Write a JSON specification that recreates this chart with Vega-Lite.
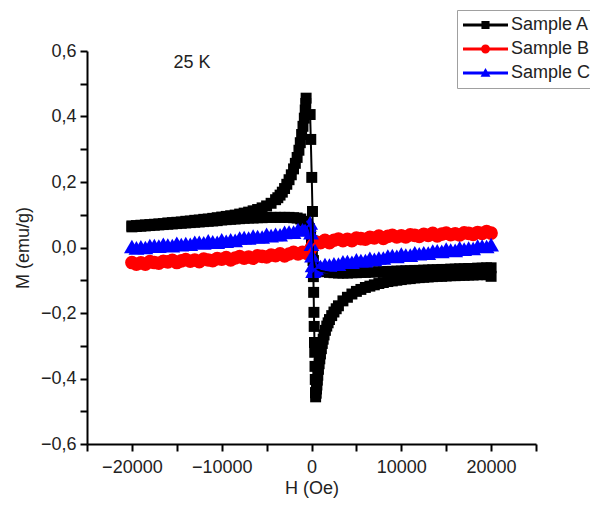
{
  "$schema": "https://vega.github.io/schema/vega-lite/v6.json",
  "width": 449,
  "height": 393,
  "autosize": {"type": "none"},
  "padding": {"left": 87, "top": 51, "right": 54, "bottom": 66},
  "background": "white",
  "config": {"view": {"stroke": null}, "font": "Liberation Sans"},
  "datasets": {
    "note": [{"h": -13300, "m": 0.549, "t": "25 K"}],
    "curves": [
      {"s":"Sample A","i":1,"h":20000,"m":-0.062},
      {"s":"Sample A","i":2,"h":19500,"m":-0.062},
      {"s":"Sample A","i":3,"h":19000,"m":-0.063},
      {"s":"Sample A","i":4,"h":18500,"m":-0.063},
      {"s":"Sample A","i":5,"h":18000,"m":-0.064},
      {"s":"Sample A","i":6,"h":17500,"m":-0.064},
      {"s":"Sample A","i":7,"h":17000,"m":-0.065},
      {"s":"Sample A","i":8,"h":16500,"m":-0.065},
      {"s":"Sample A","i":9,"h":16000,"m":-0.066},
      {"s":"Sample A","i":10,"h":15500,"m":-0.066},
      {"s":"Sample A","i":11,"h":15000,"m":-0.067},
      {"s":"Sample A","i":12,"h":14500,"m":-0.067},
      {"s":"Sample A","i":13,"h":14000,"m":-0.068},
      {"s":"Sample A","i":14,"h":13500,"m":-0.068},
      {"s":"Sample A","i":15,"h":13000,"m":-0.069},
      {"s":"Sample A","i":16,"h":12500,"m":-0.069},
      {"s":"Sample A","i":17,"h":12000,"m":-0.07},
      {"s":"Sample A","i":18,"h":11500,"m":-0.07},
      {"s":"Sample A","i":19,"h":11000,"m":-0.071},
      {"s":"Sample A","i":20,"h":10500,"m":-0.071},
      {"s":"Sample A","i":21,"h":10000,"m":-0.072},
      {"s":"Sample A","i":22,"h":9500,"m":-0.072},
      {"s":"Sample A","i":23,"h":9000,"m":-0.073},
      {"s":"Sample A","i":24,"h":8500,"m":-0.073},
      {"s":"Sample A","i":25,"h":8000,"m":-0.074},
      {"s":"Sample A","i":26,"h":7500,"m":-0.074},
      {"s":"Sample A","i":27,"h":7000,"m":-0.075},
      {"s":"Sample A","i":28,"h":6500,"m":-0.075},
      {"s":"Sample A","i":29,"h":6000,"m":-0.076},
      {"s":"Sample A","i":30,"h":5500,"m":-0.076},
      {"s":"Sample A","i":31,"h":5000,"m":-0.077},
      {"s":"Sample A","i":32,"h":4500,"m":-0.077},
      {"s":"Sample A","i":33,"h":4000,"m":-0.078},
      {"s":"Sample A","i":34,"h":3500,"m":-0.078},
      {"s":"Sample A","i":35,"h":3000,"m":-0.078},
      {"s":"Sample A","i":36,"h":2500,"m":-0.077},
      {"s":"Sample A","i":37,"h":2000,"m":-0.076},
      {"s":"Sample A","i":38,"h":1500,"m":-0.074},
      {"s":"Sample A","i":39,"h":1000,"m":-0.071},
      {"s":"Sample A","i":40,"h":700,"m":-0.067},
      {"s":"Sample A","i":41,"h":400,"m":-0.06},
      {"s":"Sample A","i":42,"h":200,"m":-0.04},
      {"s":"Sample A","i":43,"h":100,"m":-0.01},
      {"s":"Sample A","i":44,"h":0,"m":0.02},
      {"s":"Sample A","i":45,"h":-100,"m":0.045},
      {"s":"Sample A","i":46,"h":-250,"m":0.058},
      {"s":"Sample A","i":47,"h":-500,"m":0.07},
      {"s":"Sample A","i":48,"h":-800,"m":0.08},
      {"s":"Sample A","i":49,"h":-1200,"m":0.087},
      {"s":"Sample A","i":50,"h":-1600,"m":0.09},
      {"s":"Sample A","i":51,"h":-2000,"m":0.091},
      {"s":"Sample A","i":52,"h":-2500,"m":0.092},
      {"s":"Sample A","i":53,"h":-3000,"m":0.092},
      {"s":"Sample A","i":54,"h":-3500,"m":0.092},
      {"s":"Sample A","i":55,"h":-4000,"m":0.092},
      {"s":"Sample A","i":56,"h":-4500,"m":0.092},
      {"s":"Sample A","i":57,"h":-5000,"m":0.092},
      {"s":"Sample A","i":58,"h":-5500,"m":0.091},
      {"s":"Sample A","i":59,"h":-6000,"m":0.091},
      {"s":"Sample A","i":60,"h":-6500,"m":0.09},
      {"s":"Sample A","i":61,"h":-7000,"m":0.09},
      {"s":"Sample A","i":62,"h":-7500,"m":0.089},
      {"s":"Sample A","i":63,"h":-8000,"m":0.088},
      {"s":"Sample A","i":64,"h":-8500,"m":0.087},
      {"s":"Sample A","i":65,"h":-9000,"m":0.086},
      {"s":"Sample A","i":66,"h":-9500,"m":0.085},
      {"s":"Sample A","i":67,"h":-10000,"m":0.084},
      {"s":"Sample A","i":68,"h":-10500,"m":0.082},
      {"s":"Sample A","i":69,"h":-11000,"m":0.081},
      {"s":"Sample A","i":70,"h":-11500,"m":0.08},
      {"s":"Sample A","i":71,"h":-12000,"m":0.079},
      {"s":"Sample A","i":72,"h":-12500,"m":0.078},
      {"s":"Sample A","i":73,"h":-13000,"m":0.077},
      {"s":"Sample A","i":74,"h":-13500,"m":0.076},
      {"s":"Sample A","i":75,"h":-14000,"m":0.075},
      {"s":"Sample A","i":76,"h":-14500,"m":0.074},
      {"s":"Sample A","i":77,"h":-15000,"m":0.073},
      {"s":"Sample A","i":78,"h":-15500,"m":0.072},
      {"s":"Sample A","i":79,"h":-16000,"m":0.071},
      {"s":"Sample A","i":80,"h":-16500,"m":0.07},
      {"s":"Sample A","i":81,"h":-17000,"m":0.069},
      {"s":"Sample A","i":82,"h":-17500,"m":0.068},
      {"s":"Sample A","i":83,"h":-18000,"m":0.067},
      {"s":"Sample A","i":84,"h":-18500,"m":0.066},
      {"s":"Sample A","i":85,"h":-19000,"m":0.065},
      {"s":"Sample A","i":86,"h":-19500,"m":0.064},
      {"s":"Sample A","i":87,"h":-20000,"m":0.063},
      {"s":"Sample A","i":88,"h":-20000,"m":0.066},
      {"s":"Sample A","i":89,"h":-19500,"m":0.067},
      {"s":"Sample A","i":90,"h":-19000,"m":0.068},
      {"s":"Sample A","i":91,"h":-18500,"m":0.069},
      {"s":"Sample A","i":92,"h":-18000,"m":0.07},
      {"s":"Sample A","i":93,"h":-17500,"m":0.071},
      {"s":"Sample A","i":94,"h":-17000,"m":0.072},
      {"s":"Sample A","i":95,"h":-16500,"m":0.073},
      {"s":"Sample A","i":96,"h":-16000,"m":0.075},
      {"s":"Sample A","i":97,"h":-15500,"m":0.076},
      {"s":"Sample A","i":98,"h":-15000,"m":0.077},
      {"s":"Sample A","i":99,"h":-14500,"m":0.078},
      {"s":"Sample A","i":100,"h":-14000,"m":0.08},
      {"s":"Sample A","i":101,"h":-13500,"m":0.081},
      {"s":"Sample A","i":102,"h":-13000,"m":0.083},
      {"s":"Sample A","i":103,"h":-12500,"m":0.084},
      {"s":"Sample A","i":104,"h":-12000,"m":0.086},
      {"s":"Sample A","i":105,"h":-11500,"m":0.087},
      {"s":"Sample A","i":106,"h":-11000,"m":0.089},
      {"s":"Sample A","i":107,"h":-10500,"m":0.091},
      {"s":"Sample A","i":108,"h":-10000,"m":0.093},
      {"s":"Sample A","i":109,"h":-9500,"m":0.095},
      {"s":"Sample A","i":110,"h":-9000,"m":0.097},
      {"s":"Sample A","i":111,"h":-8500,"m":0.099},
      {"s":"Sample A","i":112,"h":-8000,"m":0.102},
      {"s":"Sample A","i":113,"h":-7500,"m":0.105},
      {"s":"Sample A","i":114,"h":-7000,"m":0.108},
      {"s":"Sample A","i":115,"h":-6500,"m":0.112},
      {"s":"Sample A","i":116,"h":-6000,"m":0.116},
      {"s":"Sample A","i":117,"h":-5500,"m":0.121},
      {"s":"Sample A","i":118,"h":-5000,"m":0.127},
      {"s":"Sample A","i":119,"h":-4500,"m":0.135},
      {"s":"Sample A","i":120,"h":-4000,"m":0.146},
      {"s":"Sample A","i":121,"h":-3750,"m":0.152},
      {"s":"Sample A","i":122,"h":-3500,"m":0.16},
      {"s":"Sample A","i":123,"h":-3250,"m":0.169},
      {"s":"Sample A","i":124,"h":-3000,"m":0.18},
      {"s":"Sample A","i":125,"h":-2750,"m":0.193},
      {"s":"Sample A","i":126,"h":-2500,"m":0.207},
      {"s":"Sample A","i":127,"h":-2250,"m":0.222},
      {"s":"Sample A","i":128,"h":-2000,"m":0.24},
      {"s":"Sample A","i":129,"h":-1800,"m":0.257},
      {"s":"Sample A","i":130,"h":-1600,"m":0.275},
      {"s":"Sample A","i":131,"h":-1400,"m":0.297},
      {"s":"Sample A","i":132,"h":-1250,"m":0.32},
      {"s":"Sample A","i":133,"h":-1100,"m":0.345},
      {"s":"Sample A","i":134,"h":-950,"m":0.37},
      {"s":"Sample A","i":135,"h":-800,"m":0.395},
      {"s":"Sample A","i":136,"h":-700,"m":0.42},
      {"s":"Sample A","i":137,"h":-640,"m":0.44},
      {"s":"Sample A","i":138,"h":-600,"m":0.456},
      {"s":"Sample A","i":139,"h":-150,"m":0.406},
      {"s":"Sample A","i":140,"h":-80,"m":0.33},
      {"s":"Sample A","i":141,"h":30,"m":0.214},
      {"s":"Sample A","i":142,"h":110,"m":0.11},
      {"s":"Sample A","i":143,"h":150,"m":0.02},
      {"s":"Sample A","i":144,"h":180,"m":-0.04},
      {"s":"Sample A","i":145,"h":210,"m":-0.089},
      {"s":"Sample A","i":146,"h":240,"m":-0.137},
      {"s":"Sample A","i":147,"h":270,"m":-0.198},
      {"s":"Sample A","i":148,"h":300,"m":-0.241},
      {"s":"Sample A","i":149,"h":330,"m":-0.29},
      {"s":"Sample A","i":150,"h":360,"m":-0.32},
      {"s":"Sample A","i":151,"h":390,"m":-0.363},
      {"s":"Sample A","i":152,"h":420,"m":-0.403},
      {"s":"Sample A","i":153,"h":440,"m":-0.443},
      {"s":"Sample A","i":154,"h":460,"m":-0.456},
      {"s":"Sample A","i":155,"h":520,"m":-0.445},
      {"s":"Sample A","i":156,"h":560,"m":-0.432},
      {"s":"Sample A","i":157,"h":600,"m":-0.42},
      {"s":"Sample A","i":158,"h":650,"m":-0.405},
      {"s":"Sample A","i":159,"h":700,"m":-0.39},
      {"s":"Sample A","i":160,"h":775,"m":-0.372},
      {"s":"Sample A","i":161,"h":850,"m":-0.355},
      {"s":"Sample A","i":162,"h":925,"m":-0.34},
      {"s":"Sample A","i":163,"h":1000,"m":-0.325},
      {"s":"Sample A","i":164,"h":1100,"m":-0.309},
      {"s":"Sample A","i":165,"h":1200,"m":-0.293},
      {"s":"Sample A","i":166,"h":1300,"m":-0.28},
      {"s":"Sample A","i":167,"h":1400,"m":-0.267},
      {"s":"Sample A","i":168,"h":1550,"m":-0.253},
      {"s":"Sample A","i":169,"h":1700,"m":-0.24},
      {"s":"Sample A","i":170,"h":1850,"m":-0.23},
      {"s":"Sample A","i":171,"h":2000,"m":-0.22},
      {"s":"Sample A","i":172,"h":2250,"m":-0.208},
      {"s":"Sample A","i":173,"h":2500,"m":-0.197},
      {"s":"Sample A","i":174,"h":2750,"m":-0.187},
      {"s":"Sample A","i":175,"h":3000,"m":-0.178},
      {"s":"Sample A","i":176,"h":3500,"m":-0.163},
      {"s":"Sample A","i":177,"h":4000,"m":-0.152},
      {"s":"Sample A","i":178,"h":4500,"m":-0.142},
      {"s":"Sample A","i":179,"h":5000,"m":-0.134},
      {"s":"Sample A","i":180,"h":5500,"m":-0.128},
      {"s":"Sample A","i":181,"h":6000,"m":-0.122},
      {"s":"Sample A","i":182,"h":6500,"m":-0.118},
      {"s":"Sample A","i":183,"h":7000,"m":-0.114},
      {"s":"Sample A","i":184,"h":7500,"m":-0.11},
      {"s":"Sample A","i":185,"h":8000,"m":-0.107},
      {"s":"Sample A","i":186,"h":8500,"m":-0.104},
      {"s":"Sample A","i":187,"h":9000,"m":-0.102},
      {"s":"Sample A","i":188,"h":9500,"m":-0.1},
      {"s":"Sample A","i":189,"h":10000,"m":-0.098},
      {"s":"Sample A","i":190,"h":10500,"m":-0.096},
      {"s":"Sample A","i":191,"h":11000,"m":-0.095},
      {"s":"Sample A","i":192,"h":11500,"m":-0.093},
      {"s":"Sample A","i":193,"h":12000,"m":-0.092},
      {"s":"Sample A","i":194,"h":12500,"m":-0.091},
      {"s":"Sample A","i":195,"h":13000,"m":-0.09},
      {"s":"Sample A","i":196,"h":13500,"m":-0.089},
      {"s":"Sample A","i":197,"h":14000,"m":-0.088},
      {"s":"Sample A","i":198,"h":14500,"m":-0.088},
      {"s":"Sample A","i":199,"h":15000,"m":-0.087},
      {"s":"Sample A","i":200,"h":15500,"m":-0.086},
      {"s":"Sample A","i":201,"h":16000,"m":-0.086},
      {"s":"Sample A","i":202,"h":16500,"m":-0.085},
      {"s":"Sample A","i":203,"h":17000,"m":-0.085},
      {"s":"Sample A","i":204,"h":17500,"m":-0.084},
      {"s":"Sample A","i":205,"h":18000,"m":-0.084},
      {"s":"Sample A","i":206,"h":18500,"m":-0.083},
      {"s":"Sample A","i":207,"h":19000,"m":-0.083},
      {"s":"Sample A","i":208,"h":19500,"m":-0.083},
      {"s":"Sample A","i":209,"h":20000,"m":-0.088},
      {"s":"Sample B","i":1,"h":-20000,"m":-0.046},
      {"s":"Sample B","i":2,"h":-19500,"m":-0.051},
      {"s":"Sample B","i":3,"h":-19000,"m":-0.047},
      {"s":"Sample B","i":4,"h":-18500,"m":-0.051},
      {"s":"Sample B","i":5,"h":-18000,"m":-0.043},
      {"s":"Sample B","i":6,"h":-17500,"m":-0.046},
      {"s":"Sample B","i":7,"h":-17000,"m":-0.048},
      {"s":"Sample B","i":8,"h":-16500,"m":-0.042},
      {"s":"Sample B","i":9,"h":-16000,"m":-0.044},
      {"s":"Sample B","i":10,"h":-15500,"m":-0.039},
      {"s":"Sample B","i":11,"h":-15000,"m":-0.046},
      {"s":"Sample B","i":12,"h":-14500,"m":-0.041},
      {"s":"Sample B","i":13,"h":-14000,"m":-0.037},
      {"s":"Sample B","i":14,"h":-13500,"m":-0.042},
      {"s":"Sample B","i":15,"h":-13000,"m":-0.038},
      {"s":"Sample B","i":16,"h":-12500,"m":-0.043},
      {"s":"Sample B","i":17,"h":-12000,"m":-0.035},
      {"s":"Sample B","i":18,"h":-11500,"m":-0.038},
      {"s":"Sample B","i":19,"h":-11000,"m":-0.04},
      {"s":"Sample B","i":20,"h":-10500,"m":-0.034},
      {"s":"Sample B","i":21,"h":-10000,"m":-0.036},
      {"s":"Sample B","i":22,"h":-9500,"m":-0.031},
      {"s":"Sample B","i":23,"h":-9000,"m":-0.038},
      {"s":"Sample B","i":24,"h":-8500,"m":-0.032},
      {"s":"Sample B","i":25,"h":-8000,"m":-0.028},
      {"s":"Sample B","i":26,"h":-7500,"m":-0.033},
      {"s":"Sample B","i":27,"h":-7000,"m":-0.029},
      {"s":"Sample B","i":28,"h":-6500,"m":-0.033},
      {"s":"Sample B","i":29,"h":-6000,"m":-0.025},
      {"s":"Sample B","i":30,"h":-5500,"m":-0.027},
      {"s":"Sample B","i":31,"h":-5000,"m":-0.029},
      {"s":"Sample B","i":32,"h":-4500,"m":-0.023},
      {"s":"Sample B","i":33,"h":-4000,"m":-0.025},
      {"s":"Sample B","i":34,"h":-3500,"m":-0.019},
      {"s":"Sample B","i":35,"h":-3000,"m":-0.026},
      {"s":"Sample B","i":36,"h":-2500,"m":-0.02},
      {"s":"Sample B","i":37,"h":-2000,"m":-0.015},
      {"s":"Sample B","i":38,"h":-1500,"m":-0.02},
      {"s":"Sample B","i":39,"h":-1000,"m":-0.015},
      {"s":"Sample B","i":40,"h":-500,"m":-0.018},
      {"s":"Sample B","i":41,"h":-200,"m":-0.009},
      {"s":"Sample B","i":42,"h":0,"m":0.0},
      {"s":"Sample B","i":43,"h":200,"m":0.009},
      {"s":"Sample B","i":44,"h":500,"m":0.016},
      {"s":"Sample B","i":45,"h":1000,"m":0.015},
      {"s":"Sample B","i":46,"h":1500,"m":0.022},
      {"s":"Sample B","i":47,"h":2000,"m":0.015},
      {"s":"Sample B","i":48,"h":2500,"m":0.022},
      {"s":"Sample B","i":49,"h":3000,"m":0.026},
      {"s":"Sample B","i":50,"h":3500,"m":0.021},
      {"s":"Sample B","i":51,"h":4000,"m":0.025},
      {"s":"Sample B","i":52,"h":4500,"m":0.021},
      {"s":"Sample B","i":53,"h":5000,"m":0.029},
      {"s":"Sample B","i":54,"h":5500,"m":0.027},
      {"s":"Sample B","i":55,"h":6000,"m":0.025},
      {"s":"Sample B","i":56,"h":6500,"m":0.031},
      {"s":"Sample B","i":57,"h":7000,"m":0.029},
      {"s":"Sample B","i":58,"h":7500,"m":0.035},
      {"s":"Sample B","i":59,"h":8000,"m":0.028},
      {"s":"Sample B","i":60,"h":8500,"m":0.034},
      {"s":"Sample B","i":61,"h":9000,"m":0.037},
      {"s":"Sample B","i":62,"h":9500,"m":0.032},
      {"s":"Sample B","i":63,"h":10000,"m":0.036},
      {"s":"Sample B","i":64,"h":10500,"m":0.032},
      {"s":"Sample B","i":65,"h":11000,"m":0.039},
      {"s":"Sample B","i":66,"h":11500,"m":0.037},
      {"s":"Sample B","i":67,"h":12000,"m":0.034},
      {"s":"Sample B","i":68,"h":12500,"m":0.04},
      {"s":"Sample B","i":69,"h":13000,"m":0.037},
      {"s":"Sample B","i":70,"h":13500,"m":0.043},
      {"s":"Sample B","i":71,"h":14000,"m":0.035},
      {"s":"Sample B","i":72,"h":14500,"m":0.041},
      {"s":"Sample B","i":73,"h":15000,"m":0.044},
      {"s":"Sample B","i":74,"h":15500,"m":0.039},
      {"s":"Sample B","i":75,"h":16000,"m":0.042},
      {"s":"Sample B","i":76,"h":16500,"m":0.038},
      {"s":"Sample B","i":77,"h":17000,"m":0.045},
      {"s":"Sample B","i":78,"h":17500,"m":0.043},
      {"s":"Sample B","i":79,"h":18000,"m":0.04},
      {"s":"Sample B","i":80,"h":18500,"m":0.046},
      {"s":"Sample B","i":81,"h":19000,"m":0.043},
      {"s":"Sample B","i":82,"h":19500,"m":0.049},
      {"s":"Sample B","i":83,"h":20000,"m":0.044},
      {"s":"Sample C","i":1,"h":-20000,"m":0.003},
      {"s":"Sample C","i":2,"h":-19500,"m":-0.001},
      {"s":"Sample C","i":3,"h":-19000,"m":0.002},
      {"s":"Sample C","i":4,"h":-18500,"m":0.0},
      {"s":"Sample C","i":5,"h":-18000,"m":0.006},
      {"s":"Sample C","i":6,"h":-17500,"m":0.006},
      {"s":"Sample C","i":7,"h":-17000,"m":0.004},
      {"s":"Sample C","i":8,"h":-16500,"m":0.01},
      {"s":"Sample C","i":9,"h":-16000,"m":0.007},
      {"s":"Sample C","i":10,"h":-15500,"m":0.006},
      {"s":"Sample C","i":11,"h":-15000,"m":0.013},
      {"s":"Sample C","i":12,"h":-14500,"m":0.009},
      {"s":"Sample C","i":13,"h":-14000,"m":0.012},
      {"s":"Sample C","i":14,"h":-13500,"m":0.01},
      {"s":"Sample C","i":15,"h":-13000,"m":0.016},
      {"s":"Sample C","i":16,"h":-12500,"m":0.016},
      {"s":"Sample C","i":17,"h":-12000,"m":0.014},
      {"s":"Sample C","i":18,"h":-11500,"m":0.02},
      {"s":"Sample C","i":19,"h":-11000,"m":0.017},
      {"s":"Sample C","i":20,"h":-10500,"m":0.016},
      {"s":"Sample C","i":21,"h":-10000,"m":0.023},
      {"s":"Sample C","i":22,"h":-9500,"m":0.019},
      {"s":"Sample C","i":23,"h":-9000,"m":0.023},
      {"s":"Sample C","i":24,"h":-8500,"m":0.022},
      {"s":"Sample C","i":25,"h":-8000,"m":0.029},
      {"s":"Sample C","i":26,"h":-7500,"m":0.03},
      {"s":"Sample C","i":27,"h":-7000,"m":0.029},
      {"s":"Sample C","i":28,"h":-6500,"m":0.035},
      {"s":"Sample C","i":29,"h":-6000,"m":0.033},
      {"s":"Sample C","i":30,"h":-5500,"m":0.032},
      {"s":"Sample C","i":31,"h":-5000,"m":0.04},
      {"s":"Sample C","i":32,"h":-4500,"m":0.036},
      {"s":"Sample C","i":33,"h":-4000,"m":0.04},
      {"s":"Sample C","i":34,"h":-3500,"m":0.039},
      {"s":"Sample C","i":35,"h":-3000,"m":0.046},
      {"s":"Sample C","i":36,"h":-2500,"m":0.047},
      {"s":"Sample C","i":37,"h":-2000,"m":0.047},
      {"s":"Sample C","i":38,"h":-1500,"m":0.055},
      {"s":"Sample C","i":39,"h":-1000,"m":0.054},
      {"s":"Sample C","i":40,"h":-500,"m":0.062},
      {"s":"Sample C","i":41,"h":-300,"m":0.068},
      {"s":"Sample C","i":42,"h":-150,"m":0.075},
      {"s":"Sample C","i":43,"h":-60,"m":0.045},
      {"s":"Sample C","i":44,"h":0,"m":0.01},
      {"s":"Sample C","i":45,"h":60,"m":-0.025},
      {"s":"Sample C","i":46,"h":120,"m":-0.055},
      {"s":"Sample C","i":47,"h":180,"m":-0.072},
      {"s":"Sample C","i":48,"h":300,"m":-0.068},
      {"s":"Sample C","i":49,"h":500,"m":-0.064},
      {"s":"Sample C","i":50,"h":1000,"m":-0.058},
      {"s":"Sample C","i":51,"h":1500,"m":-0.052},
      {"s":"Sample C","i":52,"h":2000,"m":-0.054},
      {"s":"Sample C","i":53,"h":2500,"m":-0.05},
      {"s":"Sample C","i":54,"h":3000,"m":-0.051},
      {"s":"Sample C","i":55,"h":3500,"m":-0.044},
      {"s":"Sample C","i":56,"h":4000,"m":-0.043},
      {"s":"Sample C","i":57,"h":4500,"m":-0.045},
      {"s":"Sample C","i":58,"h":5000,"m":-0.038},
      {"s":"Sample C","i":59,"h":5500,"m":-0.04},
      {"s":"Sample C","i":60,"h":6000,"m":-0.04},
      {"s":"Sample C","i":61,"h":6500,"m":-0.033},
      {"s":"Sample C","i":62,"h":7000,"m":-0.036},
      {"s":"Sample C","i":63,"h":7500,"m":-0.032},
      {"s":"Sample C","i":64,"h":8000,"m":-0.032},
      {"s":"Sample C","i":65,"h":8500,"m":-0.026},
      {"s":"Sample C","i":66,"h":9000,"m":-0.025},
      {"s":"Sample C","i":67,"h":9500,"m":-0.027},
      {"s":"Sample C","i":68,"h":10000,"m":-0.02},
      {"s":"Sample C","i":69,"h":10500,"m":-0.023},
      {"s":"Sample C","i":70,"h":11000,"m":-0.023},
      {"s":"Sample C","i":71,"h":11500,"m":-0.016},
      {"s":"Sample C","i":72,"h":12000,"m":-0.019},
      {"s":"Sample C","i":73,"h":12500,"m":-0.016},
      {"s":"Sample C","i":74,"h":13000,"m":-0.017},
      {"s":"Sample C","i":75,"h":13500,"m":-0.011},
      {"s":"Sample C","i":76,"h":14000,"m":-0.01},
      {"s":"Sample C","i":77,"h":14500,"m":-0.012},
      {"s":"Sample C","i":78,"h":15000,"m":-0.005},
      {"s":"Sample C","i":79,"h":15500,"m":-0.008},
      {"s":"Sample C","i":80,"h":16000,"m":-0.009},
      {"s":"Sample C","i":81,"h":16500,"m":-0.001},
      {"s":"Sample C","i":82,"h":17000,"m":-0.005},
      {"s":"Sample C","i":83,"h":17500,"m":-0.002},
      {"s":"Sample C","i":84,"h":18000,"m":-0.003},
      {"s":"Sample C","i":85,"h":18500,"m":0.004},
      {"s":"Sample C","i":86,"h":19000,"m":0.004},
      {"s":"Sample C","i":87,"h":19500,"m":0.003},
      {"s":"Sample C","i":88,"h":20000,"m":0.009}
    ]
  },
  "data": {"name": "curves"},
  "resolve": {"scale": {"shape": "independent", "size": "independent"}},
  "encoding": {
    "x": {
      "field": "h", "type": "quantitative",
      "scale": {"domain": [-25000, 25000], "nice": false, "zero": false},
      "axis": {
        "title": "H (Oe)",
        "values": [-25000, -20000, -15000, -10000, -5000, 0, 5000, 10000, 15000, 20000, 25000],
        "labelExpr": "datum.value % 10000 === 0 ? format(datum.value, 'd') : ''",
        "grid": false, "tickSize": 7, "tickWidth": 2, "tickColor": "#000000",
        "domainColor": "#000000", "domainWidth": 2,
        "labelFontSize": 18, "labelColor": "#222222", "labelPadding": 7,
        "labelFlush": false, "labelOverlap": false,
        "titleFontSize": 18, "titleFontWeight": "normal", "titleColor": "#222222", "titlePadding": 3,
        "encode": {"ticks": {"update": {"y2": {"signal": "datum.value % 10000 === 0 ? 7 : 4"}}}}
      }
    },
    "y": {
      "field": "m", "type": "quantitative",
      "scale": {"domain": [-0.6, 0.6], "nice": false, "zero": false},
      "axis": {
        "title": "M (emu/g)",
        "values": [-0.6, -0.5, -0.4, -0.3, -0.2, -0.1, 0, 0.1, 0.2, 0.3, 0.4, 0.5, 0.6],
        "labelExpr": "abs(round(datum.value * 10)) % 2 === 0 ? replace(format(datum.value, '.1f'), '.', ',') : ''",
        "grid": false, "tickSize": 7, "tickWidth": 2, "tickColor": "#000000",
        "domainColor": "#000000", "domainWidth": 2,
        "labelFontSize": 18, "labelColor": "#222222", "labelPadding": 4,
        "labelFlush": false, "labelOverlap": false,
        "titleFontSize": 18, "titleFontWeight": "normal", "titleColor": "#222222", "titlePadding": 8,
        "encode": {"ticks": {"update": {"x2": {"signal": "abs(round(datum.value * 10)) % 2 === 0 ? -7 : -4"}}}}
      }
    }
  },
  "layer": [
    {
      "mark": {"type": "point", "filled": true, "opacity": 1},
      "encoding": {
        "color": {"field": "s", "type": "nominal",
          "scale": {"domain": ["Sample A", "Sample B", "Sample C"], "range": ["#000000", "#ff0000", "#0000ff"]},
          "legend": {
            "orient": "none", "legendX": 370, "legendY": -41, "title": null,
            "padding": 6, "strokeColor": "#a0a0a0", "fillColor": "#ffffff",
            "labelFontSize": 18, "labelFont": "Liberation Sans", "labelColor": "#222222",
            "symbolSize": 2025, "symbolOpacity": 1, "symbolStrokeWidth": 0,
            "labelOffset": 3, "rowPadding": 6, "clipHeight": 18,
            "symbolType": "M-1,-0.067H1V0.067H-1Z M-0.18,-0.18H0.18V0.18H-0.18Z",
            "encode": {"symbols": {"update": {
              "shape": {"signal": "datum.value === 'Sample A' ? 'M-1,-0.067H1V0.067H-1Z M-0.18,-0.18H0.18V0.18H-0.18Z' : datum.value === 'Sample B' ? 'M-1,-0.067H1V0.067H-1Z M-0.2,0A0.2,0.2 0 1,1 0.2,0A0.2,0.2 0 1,1 -0.2,0Z' : 'M-1,-0.067H1V0.067H-1Z M0,-0.22L0.22,0.17H-0.22Z'"}
            }}}
          }},
        "shape": {"field": "s", "type": "nominal",
          "scale": {"domain": ["Sample A", "Sample B", "Sample C"], "range": ["square", "circle", "triangle-up"]},
          "legend": null},
        "size": {"field": "s", "type": "ordinal",
          "scale": {"domain": ["Sample A", "Sample B", "Sample C"], "range": [120, 250, 220]},
          "legend": null}
      }
    },
    {
      "mark": {"type": "line", "strokeWidth": 2},
      "encoding": {
        "color": {"field": "s", "type": "nominal"},
        "order": {"field": "i", "type": "quantitative"}
      }
    },
    {
      "data": {"name": "note"},
      "mark": {"type": "text", "fontSize": 18, "font": "Liberation Sans", "align": "center", "baseline": "alphabetic", "color": "#222222"},
      "encoding": {"text": {"field": "t"}}
    }
  ]
}
